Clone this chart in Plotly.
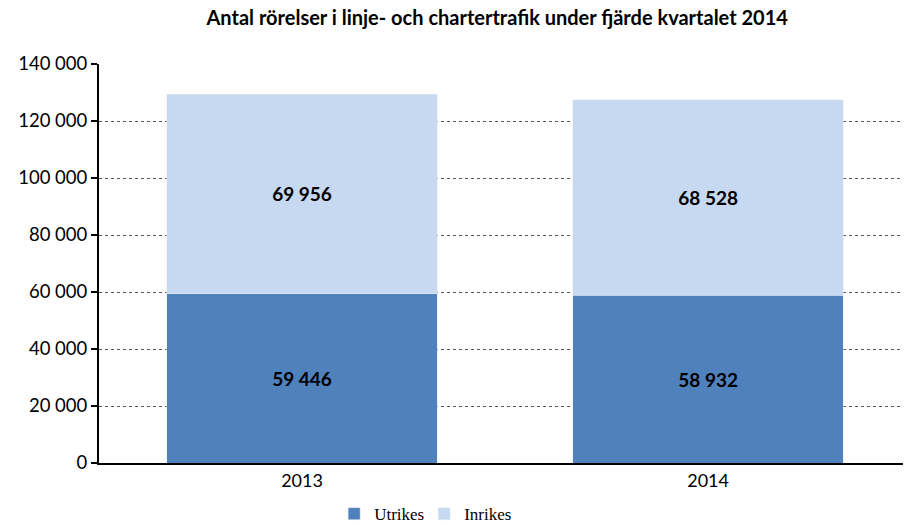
import plotly.graph_objects as go

years = ["2013", "2014"]
utrikes = [59446, 58932]
inrikes = [69956, 68528]
tick_vals = [0, 20000, 40000, 60000, 80000, 100000, 120000, 140000]
tick_text = ["0", "20 000", "40 000", "60 000", "80 000", "100 000", "120 000", "140 000"]

def fmt(v):
    return f"{v:,}".replace(",", " ")

FONT = "Lato"

fig = go.Figure()
fig.add_trace(go.Bar(
    x=years, y=utrikes, name="Utrikes", marker_color="#4F81BD",
    text=[fmt(v) for v in utrikes], textposition="inside", insidetextanchor="middle",
    textfont=dict(family=FONT, size=19, color="black", weight="bold"),
))
fig.add_trace(go.Bar(
    x=years, y=inrikes, name="Inrikes", marker_color="#C6D9F1",
    text=[fmt(v) for v in inrikes], textposition="inside", insidetextanchor="middle",
    textfont=dict(family=FONT, size=19, color="black", weight="bold"),
))

fig.update_layout(
    barmode="stack",
    bargap=0.334,
    width=904, height=525,
    margin=dict(l=99, r=1, t=64, b=62, autoexpand=False),
    paper_bgcolor="white", plot_bgcolor="white",
    title=dict(text="<b>Antal rörelser i linje- och chartertrafik under fjärde kvartalet 2014</b>",
               x=0.55, xanchor="center", y=0.966, yanchor="middle",
               font=dict(family=FONT, size=20, color="black")),
    font=dict(family=FONT, size=17, color="black"),
    showlegend=True,
    legend=dict(orientation="h", x=0.2925, xanchor="left", y=-0.083, yanchor="top",
                font=dict(family="Liberation Serif", size=17, color="black"),
                itemwidth=30, entrywidth=45, entrywidthmode="pixels", traceorder="normal"),
)
fig.update_yaxes(range=[0, 140000], tickvals=tick_vals, ticktext=tick_text,
                 showgrid=True, gridcolor="#555555", griddash="dot", gridwidth=1,
                 showline=True, linecolor="black", linewidth=2,
                 ticks="outside", ticklen=6, tickwidth=2, tickcolor="black",
                 tickfont=dict(family=FONT, size=18.5), zeroline=False, automargin=False)
fig.update_xaxes(range=[-0.5, 1.48], showline=True, linecolor="black", linewidth=2, ticks="",
                 tickfont=dict(family=FONT, size=18), automargin=False)

fig.write_html("out.html", config={"displayModeBar": False},
               post_script="document.body.style.margin='0';document.body.style.overflow='hidden';")
